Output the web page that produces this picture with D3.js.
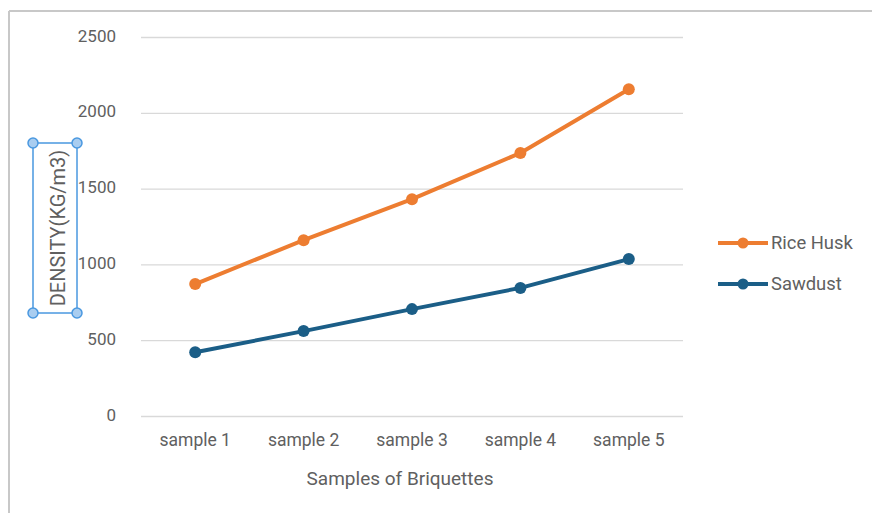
<!DOCTYPE html>
<html>
<head>
<meta charset="utf-8">
<script src="https://cdn.jsdelivr.net/npm/d3@7/dist/d3.min.js"></script>
<style>
  html, body { margin: 0; padding: 0; background: #fff; }
  svg { display: block; font-family: Roboto, "Liberation Sans", sans-serif; }
</style>
</head>
<body>
<svg id="chart" width="872" height="513"></svg>
<script>
// Briquette density by sample
const categories = ["sample 1", "sample 2", "sample 3", "sample 4", "sample 5"];
const riceHusk = [870, 1160, 1430, 1735, 2155];
const sawdust = [420, 560, 705, 845, 1035];
const yTicks = [0, 500, 1000, 1500, 2000, 2500];
const seriesNames = ["Rice Husk", "Sawdust"];
const seriesColors = ["#ED7D31", "#1B5E87"];

const series = [
  { name: seriesNames[0], values: riceHusk, color: seriesColors[0] },
  { name: seriesNames[1], values: sawdust, color: seriesColors[1] }
];

const textColor = "#606060";
const svg = d3.select("#chart");

// Outer frame (top and left edges visible)
svg.append("line").attr("x1", 9).attr("x2", 872).attr("y1", 11).attr("y2", 11)
  .attr("stroke", "#C8C8C8").attr("stroke-width", 2);
svg.append("line").attr("x1", 9).attr("x2", 9).attr("y1", 11).attr("y2", 513)
  .attr("stroke", "#C8C8C8").attr("stroke-width", 2);

const plot = { left: 141, right: 683, top: 37, bottom: 416 };

const x = d3.scaleBand().domain(categories).range([plot.left, plot.right]);
const y = d3.scaleLinear().domain([0, 2500]).range([plot.bottom, plot.top]);

// Horizontal gridlines
svg.append("g")
  .attr("transform", `translate(${plot.left},0)`)
  .call(d3.axisLeft(y).tickValues(yTicks).tickSize(-(plot.right - plot.left)).tickFormat(""))
  .call(g => g.select(".domain").remove())
  .call(g => g.selectAll(".tick line").attr("stroke", "#D9D9D9").attr("stroke-width", 1.3));

// Y tick labels
svg.append("g")
  .attr("transform", `translate(116,0)`)
  .call(d3.axisLeft(y).tickValues(yTicks).tickSize(0).tickPadding(0).tickFormat(d3.format("d")))
  .call(g => g.select(".domain").remove())
  .call(g => g.selectAll(".tick text")
    .attr("fill", textColor).attr("font-size", 17).attr("font-family", "Roboto")
    .attr("dy", 4));

// X category labels
svg.append("g")
  .attr("transform", `translate(0,${plot.bottom})`)
  .call(d3.axisBottom(x).tickSize(0).tickPadding(18))
  .call(g => g.select(".domain").remove())
  .call(g => g.selectAll(".tick text")
    .attr("fill", textColor).attr("font-size", 17.5).attr("font-family", "Roboto"));

// X axis title
svg.append("text")
  .attr("x", 400)
  .attr("y", 485)
  .attr("text-anchor", "middle")
  .attr("fill", textColor).attr("font-size", 19)
  .text("Samples of Briquettes");

// Y axis title with selection frame
const titleBox = { x0: 33, x1: 77, y0: 143, y1: 313 };
svg.append("text")
  .attr("transform", `translate(65,${(titleBox.y0 + titleBox.y1) / 2}) rotate(-90)`)
  .attr("text-anchor", "middle")
  .attr("fill", textColor).attr("font-size", 20)
  .text("DENSITY(KG/m3)");

svg.append("rect")
  .attr("x", titleBox.x0).attr("y", titleBox.y0)
  .attr("width", titleBox.x1 - titleBox.x0).attr("height", titleBox.y1 - titleBox.y0)
  .attr("fill", "none").attr("stroke", "#4A98E0").attr("stroke-width", 1.5);

const corners = [[titleBox.x0, titleBox.y0], [titleBox.x1, titleBox.y0],
                 [titleBox.x0, titleBox.y1], [titleBox.x1, titleBox.y1]];
svg.selectAll("circle.handle").data(corners).enter().append("circle")
  .attr("class", "handle")
  .attr("cx", d => d[0]).attr("cy", d => d[1]).attr("r", 5)
  .attr("fill", "#A9CDF0").attr("stroke", "#4A98E0").attr("stroke-width", 1.5);

// Lines and markers
const line = d3.line()
  .x((d, i) => x(categories[i]) + x.bandwidth() / 2)
  .y(d => y(d));

series.forEach(s => {
  svg.append("path")
    .datum(s.values)
    .attr("d", line)
    .attr("fill", "none")
    .attr("stroke", s.color)
    .attr("stroke-width", 4)
    .attr("stroke-linejoin", "round");
  svg.selectAll(null).data(s.values).enter().append("circle")
    .attr("cx", (d, i) => x(categories[i]) + x.bandwidth() / 2)
    .attr("cy", d => y(d))
    .attr("r", 6)
    .attr("fill", s.color);
});

// Legend
const legend = svg.append("g");
series.forEach((s, i) => {
  const ly = 243 + i * 41;
  legend.append("line")
    .attr("x1", 718).attr("x2", 768).attr("y1", ly).attr("y2", ly)
    .attr("stroke", s.color).attr("stroke-width", 4);
  legend.append("circle")
    .attr("cx", 743).attr("cy", ly).attr("r", 5.5).attr("fill", s.color);
  legend.append("text")
    .attr("x", 771).attr("y", ly + 6)
    .attr("fill", textColor).attr("font-size", 18.4)
    .text(s.name);
});
</script>
</body>
</html>
